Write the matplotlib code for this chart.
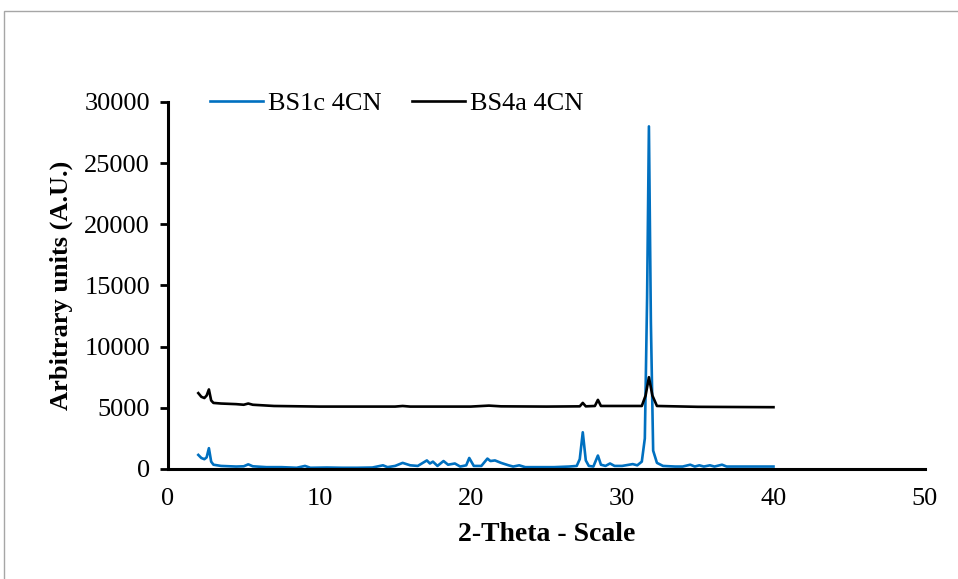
import matplotlib
matplotlib.use('Agg')
import matplotlib.pyplot as plt
from matplotlib.patches import Rectangle

plt.rcParams['font.family'] = 'Liberation Serif'

# BS1c 4CN diffractogram
x_blue = [2.0, 2.2, 2.4, 2.55, 2.7, 2.85, 3.0, 3.5, 4.5, 5.0, 5.3, 5.6, 6.5, 7.5, 8.5,
          9.05, 9.4, 10.5, 11.5, 12.5, 13.5, 14.2, 14.5, 15.0, 15.5, 16.0, 16.5, 17.1,
          17.3, 17.5, 17.8, 18.2, 18.5, 18.95, 19.3, 19.7, 19.9, 20.2, 20.7, 21.1, 21.3,
          21.6, 22.0, 22.5, 22.8, 23.2, 23.6, 24.5, 25.5, 26.5, 27.0, 27.2, 27.4, 27.6,
          27.8, 28.1, 28.4, 28.6, 28.9, 29.2, 29.5, 30.0, 30.7, 31.0, 31.3, 31.5, 31.65,
          31.77, 31.9, 32.05, 32.3, 32.7, 33.5, 34.0, 34.5, 34.8, 35.1, 35.4, 35.8, 36.1,
          36.6, 36.9, 38.0, 39.0, 40.0]
y_blue = [1150, 900, 800, 950, 1700, 600, 350, 250, 200, 220, 380, 220, 150, 150, 100,
          250, 100, 120, 100, 100, 120, 300, 150, 250, 500, 300, 250, 700,
          450, 600, 250, 650, 350, 450, 200, 300, 900, 250, 250, 850, 650,
          700, 500, 300, 200, 300, 150, 150, 150, 200, 250, 800, 3000, 700,
          250, 200, 1100, 350, 250, 450, 250, 250, 400, 300, 600, 2500, 14000,
          28000, 12000, 1500, 500, 250, 200, 200, 350, 200, 300, 200, 300, 200,
          350, 200, 200, 200, 200]

# BS4a 4CN diffractogram
x_black = [2.0, 2.2, 2.4, 2.55, 2.7, 2.85, 3.0, 3.5, 4.5, 5.0, 5.3, 5.6, 7.0, 10.0,
           15.0, 15.5, 16.0, 20.0, 21.2, 22.0, 25.0, 27.2, 27.4, 27.6, 28.2, 28.4,
           28.6, 31.3, 31.55, 31.77, 32.0, 32.3, 35.0, 40.0]
y_black = [6200, 5900, 5800, 6000, 6500, 5600, 5400, 5350, 5300, 5250, 5350, 5250,
           5150, 5100, 5100, 5150, 5100, 5100, 5180, 5120, 5100, 5120, 5400, 5120,
           5150, 5650, 5150, 5150, 6000, 7500, 6000, 5150, 5080, 5050]

fig = plt.figure(figsize=(9.58, 5.79), dpi=100)
ax = fig.add_axes([0.1754, 0.19, 0.79, 0.634])

ax.plot(x_blue, y_blue, color='#0070C0', linewidth=1.9, label='BS1c 4CN')
ax.plot(x_black, y_black, color='black', linewidth=1.9, label='BS4a 4CN')

ax.set_xlim(0, 50)
ax.set_ylim(0, 30000)
ax.set_xticks(range(0, 51, 10))
ax.set_yticks(range(0, 30001, 5000))
ax.spines['top'].set_visible(False)
ax.spines['right'].set_visible(False)
ax.spines['left'].set_linewidth(2.2)
ax.spines['bottom'].set_linewidth(2.2)
ax.tick_params(axis='y', length=6, width=2, labelsize=19, pad=7)
ax.tick_params(axis='x', length=0, labelsize=19, pad=14)

ax.set_xlabel('2-Theta - Scale', fontsize=20, fontweight='bold', labelpad=8)
ax.set_ylabel('Arbitrary units (A.U.)', fontsize=19, fontweight='bold', labelpad=8)

ax.legend(loc='center', bbox_to_anchor=(0.414, 0.822), bbox_transform=fig.transFigure,
          ncol=2, frameon=False, fontsize=19, handlelength=2.0, handletextpad=0.2,
          columnspacing=1.15)

# grey chart border
fig.patches.append(Rectangle((4 / 958, -0.05), 1.2, 1 - 11 / 579 + 0.05,
                             transform=fig.transFigure, fill=False,
                             edgecolor='#a6a6a6', linewidth=1))

fig.savefig('out.png', dpi=100)
